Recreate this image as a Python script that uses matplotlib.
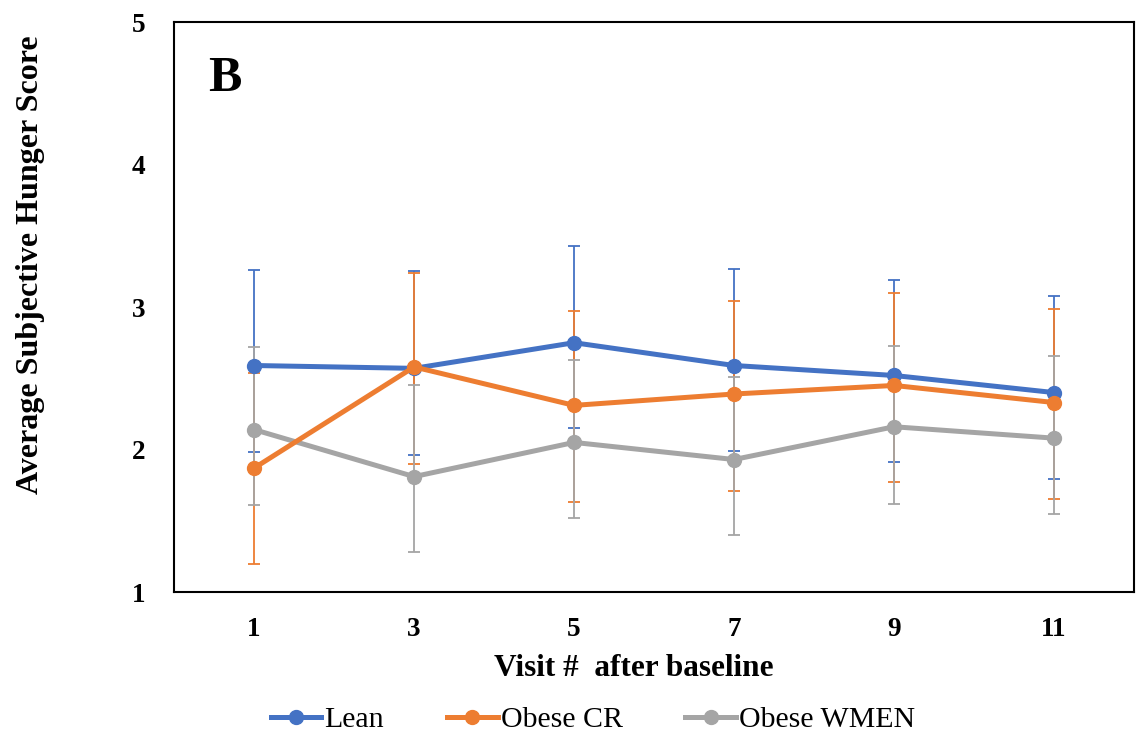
import matplotlib.pyplot as plt

plt.rcParams['font.family'] = ['Liberation Serif', 'DejaVu Serif']

visits = [1, 3, 5, 7, 9, 11]

# means
lean = [2.59, 2.57, 2.75, 2.59, 2.52, 2.40]
obese_cr = [1.87, 2.58, 2.31, 2.39, 2.45, 2.33]
obese_wmen = [2.14, 1.81, 2.05, 1.93, 2.16, 2.08]

# error bar ends (lower, upper)
lean_lo = [1.98, 1.96, 2.15, 1.99, 1.91, 1.79]
lean_hi = [3.26, 3.25, 3.43, 3.27, 3.19, 3.08]
cr_lo = [1.20, 1.90, 1.63, 1.71, 1.77, 1.65]
cr_hi = [2.54, 3.24, 2.97, 3.04, 3.10, 2.99]
wmen_lo = [1.61, 1.28, 1.52, 1.40, 1.62, 1.55]
wmen_hi = [2.72, 2.45, 2.63, 2.51, 2.73, 2.66]

colors = ['#4472C4', '#ED7D31', '#A5A5A5']
names = ['Lean', 'Obese CR', 'Obese WMEN']

fig = plt.figure(figsize=(11.38, 7.4), dpi=100)
ax = fig.add_axes([0.153, 0.2, 0.8435, 0.77])

series = [(lean, lean_lo, lean_hi), (obese_cr, cr_lo, cr_hi),
          (obese_wmen, wmen_lo, wmen_hi)]

# error bars first, gray on top of the others
for i, (m, lo, hi) in enumerate(series):
    err = [[a - b for a, b in zip(m, lo)], [b - a for a, b in zip(m, hi)]]
    ax.errorbar(visits, m, yerr=err, fmt='none', ecolor=colors[i],
                elinewidth=1.3, capsize=4.5, capthick=1.3, zorder=2 + i * 0.1)

# lines with markers
zs = [4, 5, 3]
for i, (m, lo, hi) in enumerate(series):
    ax.plot(visits, m, color=colors[i], lw=3.6, marker='o', ms=10,
            label=names[i], zorder=zs[i])

ax.set_xlim(0, 12)
ax.set_ylim(1, 5)
ax.set_xticks(visits)
ax.set_yticks([1, 2, 3, 4, 5])
ax.tick_params(axis='both', length=0, labelsize=19.5)
ax.tick_params(axis='y', pad=21)
ax.tick_params(axis='x', pad=18)
for lab in ax.get_xticklabels() + ax.get_yticklabels():
    lab.set_fontweight('bold')

for s in ax.spines.values():
    s.set_color('black')
    s.set_linewidth(1.5)

ax.text(0.035, 0.94, 'B', transform=ax.transAxes, fontsize=36,
        fontweight='bold', va='top', ha='left')

fig.text(634 / 1138, 1 - 668 / 740, 'Visit #  after baseline', fontsize=22.5,
         fontweight='bold', ha='center', va='center')
fig.text(31 / 1138, 1 - 265 / 740, 'Average Subjective Hunger Score',
         fontsize=23, fontweight='bold', rotation=90, ha='center', va='center')

fig.legend(loc='center', bbox_to_anchor=(0.521, 0.027), ncol=3,
           frameon=False, fontsize=21.5, handlelength=1.7,
           columnspacing=2.1, handletextpad=0.1)

plt.savefig('out.png', dpi=100)
